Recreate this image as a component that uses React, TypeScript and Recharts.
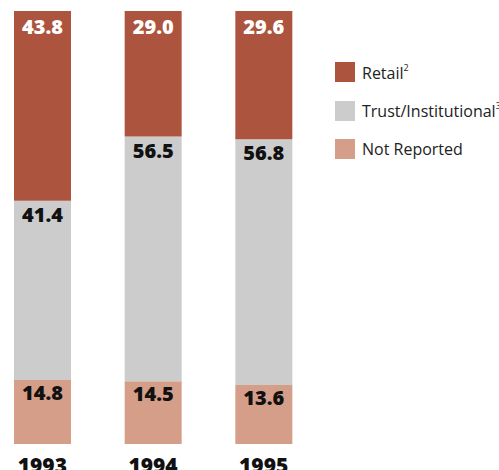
import React from 'react';
import { BarChart, Bar, XAxis, YAxis, LabelList } from 'recharts';

// Share of holdings by account type, percent
const years = ['1993', '1994', '1995'];
const retail = [43.8, 29.0, 29.6];
const trustInstitutional = [41.4, 56.5, 56.8];
const notReported = [14.8, 14.5, 13.6];

const RETAIL = '#ac543e';
const TRUST = '#cccccc';
const NOT_REPORTED = '#d59e88';

const data = years.map((year, i) => ({
  year,
  retail: retail[i],
  trust: trustInstitutional[i],
  notReported: notReported[i],
}));

const legendItems = [
  { label: 'Retail', sup: '2', color: RETAIL },
  { label: 'Trust/Institutional', sup: '3', color: TRUST },
  { label: 'Not Reported', sup: '', color: NOT_REPORTED },
];

const valueFont = {
  fontFamily: '"Open Sans", sans-serif',
  fontWeight: 800,
  fontSize: 20,
};

const fmt = (v: number) => v.toFixed(1);

function YearTick({ x, y, payload }: any) {
  return (
    <text
      x={x}
      y={y + 21}
      textAnchor="middle"
      fill="#111"
      style={{ ...valueFont, fontSize: 21 }}
    >
      {payload.value}
    </text>
  );
}

function LegendBox() {
  return (
    <div
      style={{
        position: 'absolute',
        left: 335,
        top: 62,
        width: 164,
        overflow: 'hidden',
        fontFamily: '"Open Sans", sans-serif',
        fontSize: 16,
        color: '#222',
      }}
    >
      {legendItems.map((item) => (
        <div
          key={item.label}
          style={{ display: 'flex', alignItems: 'center', height: 20, marginBottom: 18.7, whiteSpace: 'nowrap' }}
        >
          <span style={{ width: 20, height: 20, background: item.color, display: 'inline-block', marginRight: 7, flexShrink: 0 }} />
          <span>
            {item.label}
            {item.sup && <sup style={{ fontSize: 9, verticalAlign: 8 }}>{item.sup}</sup>}
          </span>
        </div>
      ))}
    </div>
  );
}

export default function App() {
  return (
    <div style={{ position: 'absolute', left: 0, top: 0, width: 499, height: 470, overflow: 'hidden' }}>
      <div style={{ position: 'absolute', left: -13, top: 0 }}>
        <BarChart
          width={332}
          height={470}
          data={data}
          margin={{ top: 11, right: 0, bottom: 0, left: 0 }}
          barSize={57}
        >
          <XAxis
            dataKey="year"
            axisLine={false}
            tickLine={false}
            height={26}
            tick={<YearTick />}
            interval={0}
          />
          <YAxis hide domain={[0, 100]} />
          <Bar dataKey="notReported" stackId="a" fill={NOT_REPORTED} isAnimationActive={false}>
            <LabelList dataKey="notReported" position="insideTop" offset={6} formatter={fmt} fill="#111" style={valueFont} />
          </Bar>
          <Bar dataKey="trust" stackId="a" fill={TRUST} isAnimationActive={false}>
            <LabelList dataKey="trust" position="insideTop" offset={7} formatter={fmt} fill="#111" style={valueFont} />
          </Bar>
          <Bar dataKey="retail" stackId="a" fill={RETAIL} isAnimationActive={false}>
            <LabelList dataKey="retail" position="insideTop" offset={9} formatter={fmt} fill="#fff" style={valueFont} />
          </Bar>
        </BarChart>
      </div>
      <LegendBox />
    </div>
  );
}
